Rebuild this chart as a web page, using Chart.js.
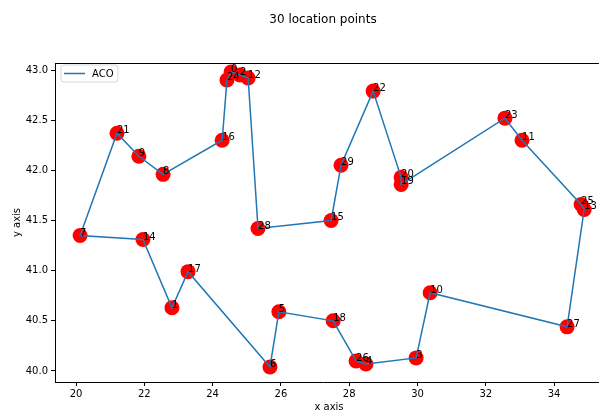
<!DOCTYPE html>
<html>
<head>
<meta charset="utf-8">
<script src="https://cdn.jsdelivr.net/npm/chart.js@4/dist/chart.umd.min.js"></script>
<style>
  html, body { margin: 0; padding: 0; background: #fff; }
  #wrap { width: 599px; height: 410px; }
</style>
</head>
<body>
<div id="wrap"><canvas id="c" width="599" height="410"></canvas></div>
<script>
// City coordinates, indexed by city id
const cityX = [24.54, 22.81, 24.80, 29.96, 28.49, 25.94, 25.68, 20.12, 22.55, 21.84,
               30.37, 33.06, 25.04, 34.88, 21.96, 27.47, 24.28, 23.28, 27.53, 29.52,
               29.52, 21.20, 28.70, 32.56, 24.42, 34.79, 28.20, 34.38, 25.33, 27.76];
const cityY = [42.98, 40.63, 42.95, 40.13, 40.07, 40.59, 40.04, 41.35, 41.96, 42.14,
               40.78, 42.30, 42.92, 41.61, 41.31, 41.50, 42.30, 40.99, 40.50, 41.86,
               41.93, 42.37, 42.79, 42.52, 42.90, 41.66, 40.10, 40.44, 41.42, 42.05];

// Best tour found by the ant colony (closed loop)
const route = [0, 2, 12, 28, 15, 29, 22, 20, 19, 23, 11, 25, 13, 27, 10, 3, 4, 26,
               18, 5, 6, 17, 1, 14, 7, 21, 9, 8, 16, 24, 0];

const xTicks = [20, 22, 24, 26, 28, 30, 32, 34];
const yTicks = [40.0, 40.5, 41.0, 41.5, 42.0, 42.5, 43.0];

const seriesName = 'ACO';
const chartTitle = '30 location points';
const xTitle = 'x axis';

const FONT = '"DejaVu Sans", "Liberation Sans", sans-serif';
const LINE_COLOR = '#1f77b4';

const cityPoints = cityX.map((x, i) => ({ x: x, y: cityY[i] }));
const tourPoints = route.map(i => ({ x: cityX[i], y: cityY[i] }));

// City id labels, title, spines, x-axis title and the in-axes legend
const decorations = {
  id: 'decorations',
  afterDatasetsDraw(chart) {
    const { ctx, scales } = chart;
    ctx.save();
    ctx.font = '10px ' + FONT;
    ctx.fillStyle = '#000';
    ctx.textAlign = 'left';
    ctx.textBaseline = 'alphabetic';
    cityX.forEach((x, i) => {
      ctx.fillText(String(i), scales.x.getPixelForValue(x), scales.y.getPixelForValue(cityY[i]));
    });
    ctx.restore();
  },
  afterDraw(chart) {
    const { ctx, chartArea } = chart;
    ctx.save();
    // top and bottom spines run to the edge of the figure
    ctx.strokeStyle = '#000';
    ctx.lineWidth = 1;
    ctx.beginPath();
    ctx.moveTo(chartArea.left, chartArea.top + 0.5);
    ctx.lineTo(chart.width, chartArea.top + 0.5);
    ctx.moveTo(chartArea.right - 1, chartArea.bottom + 0.5);
    ctx.lineTo(chart.width, chartArea.bottom + 0.5);
    ctx.stroke();

    // title
    ctx.font = '12px ' + FONT;
    ctx.fillStyle = '#000';
    ctx.textAlign = 'center';
    ctx.textBaseline = 'middle';
    ctx.fillText(chartTitle, (chartArea.left + chartArea.right) / 2, 20);

    // x-axis title
    ctx.font = '10px ' + FONT;
    ctx.fillText(xTitle, (chartArea.left + chartArea.right) / 2 + 6, chartArea.bottom + 25);

    // legend box
    const bx = chartArea.left + 6, by = chartArea.top + 2, bw = 57, bh = 17, r = 3;
    ctx.globalAlpha = 0.8;
    ctx.fillStyle = '#fff';
    ctx.strokeStyle = '#cccccc';
    ctx.beginPath();
    ctx.moveTo(bx + r, by);
    ctx.lineTo(bx + bw - r, by);
    ctx.quadraticCurveTo(bx + bw, by, bx + bw, by + r);
    ctx.lineTo(bx + bw, by + bh - r);
    ctx.quadraticCurveTo(bx + bw, by + bh, bx + bw - r, by + bh);
    ctx.lineTo(bx + r, by + bh);
    ctx.quadraticCurveTo(bx, by + bh, bx, by + bh - r);
    ctx.lineTo(bx, by + r);
    ctx.quadraticCurveTo(bx, by, bx + r, by);
    ctx.closePath();
    ctx.fill();
    ctx.stroke();
    ctx.globalAlpha = 1;
    ctx.strokeStyle = LINE_COLOR;
    ctx.lineWidth = 1.5;
    ctx.beginPath();
    ctx.moveTo(bx + 3, by + bh / 2);
    ctx.lineTo(bx + 24, by + bh / 2);
    ctx.stroke();
    ctx.font = '10px ' + FONT;
    ctx.fillStyle = '#000';
    ctx.textAlign = 'left';
    ctx.textBaseline = 'middle';
    ctx.fillText(seriesName, bx + 31, by + bh / 2 + 0.5);
    ctx.restore();
  }
};

new Chart(document.getElementById('c'), {
  type: 'scatter',
  data: {
    datasets: [
      {
        label: seriesName,
        data: tourPoints,
        showLine: true,
        borderColor: LINE_COLOR,
        borderWidth: 1.5,
        pointRadius: 0,
        fill: false,
        tension: 0,
        clip: false
      },
      {
        label: 'cities',
        data: cityPoints,
        showLine: false,
        pointRadius: 7.5,
        pointBackgroundColor: '#ff0000',
        pointBorderWidth: 0,
        borderColor: '#ff0000',
        clip: false
      }
    ]
  },
  options: {
    responsive: false,
    animation: false,
    devicePixelRatio: 1,
    layout: { padding: { top: 63, right: 8, left: 0, bottom: 0 } },
    plugins: {
      legend: { display: false },
      title: { display: false },
      tooltip: { enabled: false }
    },
    scales: {
      x: {
        type: 'linear',
        min: 19.385,
        max: 35.08,
        afterBuildTicks: s => { s.ticks = xTicks.map(v => ({ value: v })); },
        afterFit: s => { s.height = 28; },
        grid: { display: true, drawOnChartArea: false, drawTicks: true, tickLength: 4, tickColor: '#000' },
        border: { display: true, color: '#000', width: 1 },
        ticks: {
          font: { family: FONT, size: 10 },
          color: '#000',
          padding: 2,
          maxRotation: 0,
          callback: v => String(v)
        },
        title: { display: false }
      },
      y: {
        type: 'linear',
        min: 39.89,
        max: 43.07,
        afterBuildTicks: s => { s.ticks = yTicks.map(v => ({ value: v })); },
        afterFit: s => { s.width = 55; },
        grid: { display: true, drawOnChartArea: false, drawTicks: true, tickLength: 4, tickColor: '#000' },
        border: { display: true, color: '#000', width: 1 },
        ticks: {
          font: { family: FONT, size: 10 },
          color: '#000',
          padding: 3,
          callback: v => Number(v).toFixed(1)
        },
        title: {
          display: true,
          text: 'y axis',
          font: { family: FONT, size: 10 },
          color: '#000',
          padding: { top: 11, bottom: 0 }
        }
      }
    }
  },
  plugins: [decorations]
});
</script>
</body>
</html>
